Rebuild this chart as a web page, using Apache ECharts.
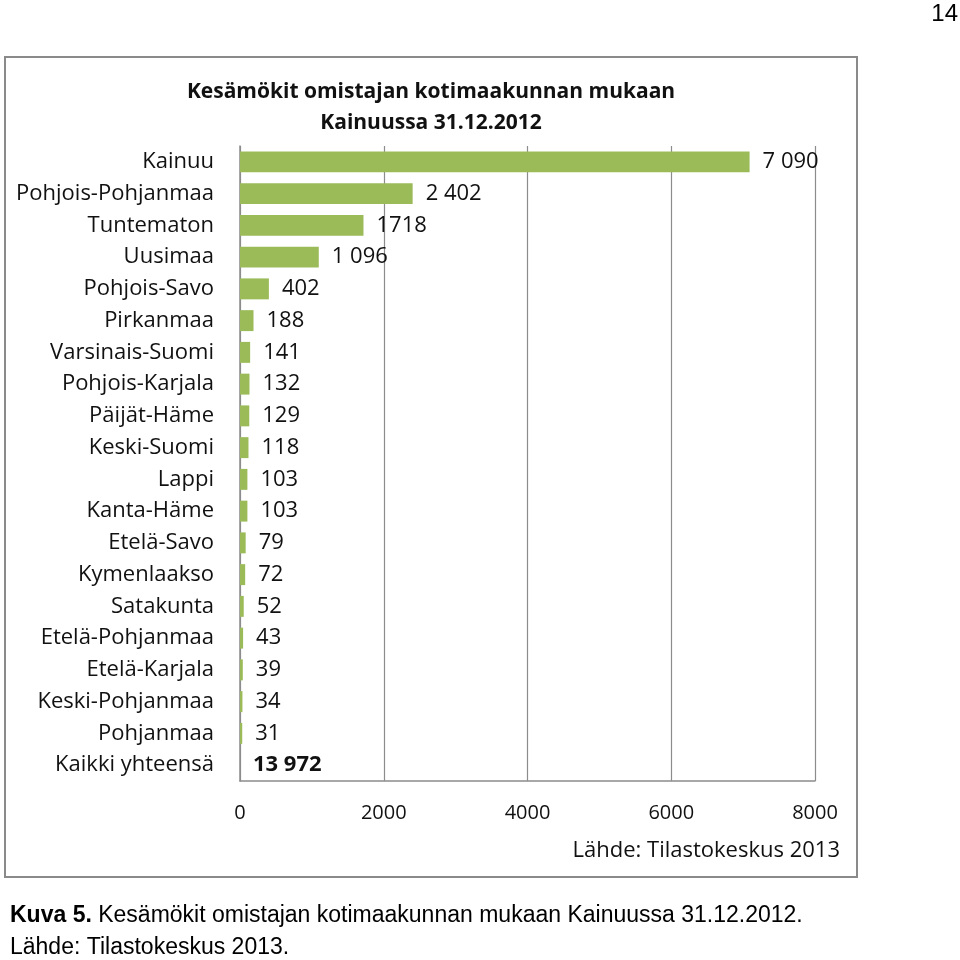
<!DOCTYPE html>
<html><head><meta charset="utf-8">
<script src="https://cdn.jsdelivr.net/npm/echarts@6/dist/echarts.min.js"></script>
<style>html,body{margin:0;padding:0;background:#fff}#c{width:960px;height:960px}</style>
</head><body><div id="c"></div>
<script>
const categories = ["Kainuu","Pohjois-Pohjanmaa","Tuntematon","Uusimaa","Pohjois-Savo","Pirkanmaa","Varsinais-Suomi","Pohjois-Karjala","Päijät-Häme","Keski-Suomi","Lappi","Kanta-Häme","Etelä-Savo","Kymenlaakso","Satakunta","Etelä-Pohjanmaa","Etelä-Karjala","Keski-Pohjanmaa","Pohjanmaa","Kaikki yhteensä"];
const values = [7090,2402,1718,1096,402,188,141,132,129,118,103,103,79,72,52,43,39,34,31];
const valueLabels = ["7 090","2 402","1718","1 096","402","188","141","132","129","118","103","103","79","72","52","43","39","34","31"];
const totalValue = 13972;
const totalLabel = "13 972";
const xTicks = [0,2000,4000,6000,8000];

const FONT = '"Open Sans", sans-serif';
const chart = echarts.init(document.getElementById('c'), null, {renderer:'canvas'});
const data = values.map((v,i)=>({value:v, label:{formatter:valueLabels[i]}}));
data.push({value:0, itemStyle:{color:'rgba(0,0,0,0)'}, label:{formatter:totalLabel, fontWeight:'bold'}});
chart.setOption({
  animation:false,
  backgroundColor:'#fff',
  grid:{left:240, right:145, top:146, bottom:179, containLabel:false},
  xAxis:{type:'value', min:xTicks[0], max:xTicks[xTicks.length-1], interval:2000,
    axisLine:{show:true, lineStyle:{color:'#8c8c8c', width:1.5}},
    axisTick:{show:false},
    splitLine:{show:true, lineStyle:{color:'#8c8c8c', width:1.2}},
    axisLabel:{margin:22, fontSize:20, color:'#111', fontFamily:FONT, formatter:v=>String(v)}},
  yAxis:{type:'category', inverse:true, data:categories,
    axisLine:{show:true, lineStyle:{color:'#8c8c8c', width:1.5}},
    axisTick:{show:false},
    axisLabel:{margin:26, fontSize:22, color:'#111', fontFamily:FONT}},
  series:[{type:'bar', data:data, barCategoryGap:'34%',
    itemStyle:{color:'#9bbb59'},
    label:{show:true, position:'right', distance:13, fontSize:22, color:'#111', fontFamily:FONT}}],
  graphic:[
    {type:'rect', shape:{x:5, y:57, width:852, height:820}, style:{fill:null, stroke:'#8a8a8a', lineWidth:2}, z:-1},
    {type:'text', x:431, y:82, style:{text:'Kesämökit omistajan kotimaakunnan mukaan', font:'bold 21px "Open Sans", sans-serif', fill:'#111', align:'center'}},
    {type:'text', x:431, y:113, style:{text:'Kainuussa 31.12.2012', font:'bold 21px "Open Sans", sans-serif', fill:'#111', align:'center'}},
    {type:'text', x:840, y:840, style:{text:'Lähde: Tilastokeskus 2013', font:'22px "Open Sans", sans-serif', fill:'#111', align:'right'}},
    {type:'text', x:958, y:2, style:{text:'14', font:'24px "Liberation Sans", Arial, sans-serif', fill:'#000', align:'right'}},
    {type:'text', x:10, y:904, style:{rich:{b:{font:'bold 23px "Liberation Sans", Arial, sans-serif', fill:'#000'}, n:{font:'23px "Liberation Sans", Arial, sans-serif', fill:'#000'}}, text:'{b|Kuva 5.}{n| Kesämökit omistajan kotimaakunnan mukaan Kainuussa 31.12.2012.}'}},
    {type:'text', x:10, y:936, style:{text:'Lähde: Tilastokeskus 2013.', font:'23px "Liberation Sans", Arial, sans-serif', fill:'#000'}}
  ]
});
</script></body></html>
